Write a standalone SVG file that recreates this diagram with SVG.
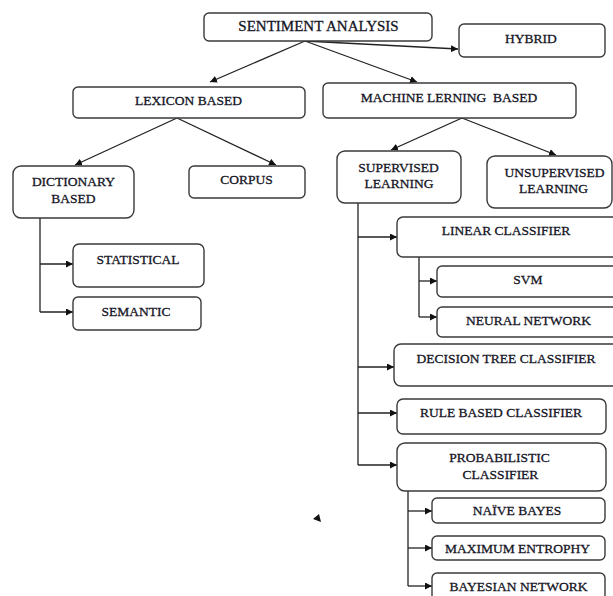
<svg xmlns="http://www.w3.org/2000/svg" width="613" height="596" viewBox="0 0 613 596">
<style>
.box{fill:#fff;stroke:#3a3a3a;stroke-width:1.4}
.t{font-family:"Liberation Serif","Times New Roman",serif;font-size:13.5px;fill:#151525;stroke:#151525;stroke-width:0.3;text-anchor:middle}
.c{fill:none;stroke:#222;stroke-width:1.3}
</style>
<defs>
<marker id="ah" viewBox="0 0 10 10" refX="10" refY="5" markerWidth="7" markerHeight="7" markerUnits="userSpaceOnUse" orient="auto">
<path d="M0,0 L10,5 L0,10 Z" fill="#111"/>
</marker>
</defs>
<rect width="613" height="596" fill="#fff"/>
<g id="connectors">
<path class="c" d="M305,41 L210,82" marker-end="url(#ah)"/>
<path class="c" d="M305,41 L417,82" marker-end="url(#ah)"/>
<path class="c" d="M305,41 L458,49" marker-end="url(#ah)"/>
<path class="c" d="M177,118 L75,165" marker-end="url(#ah)"/>
<path class="c" d="M177,118 L276,165" marker-end="url(#ah)"/>
<path class="c" d="M462,118 L391,150" marker-end="url(#ah)"/>
<path class="c" d="M462,118 L556,155" marker-end="url(#ah)"/>
<path class="c" d="M40,218 V312"/>
<path class="c" d="M40,264 H73" marker-end="url(#ah)"/>
<path class="c" d="M40,312 H73" marker-end="url(#ah)"/>
<path class="c" d="M358,203 V465"/>
<path class="c" d="M358,237 H397" marker-end="url(#ah)"/>
<path class="c" d="M358,367 H394" marker-end="url(#ah)"/>
<path class="c" d="M358,413 H397" marker-end="url(#ah)"/>
<path class="c" d="M358,465 H397" marker-end="url(#ah)"/>
<path class="c" d="M419,257 V317"/>
<path class="c" d="M419,281 H437" marker-end="url(#ah)"/>
<path class="c" d="M419,317 H437" marker-end="url(#ah)"/>
<path class="c" d="M408,480 V586"/>
<path class="c" d="M408,511 H432" marker-end="url(#ah)"/>
<path class="c" d="M408,548 H432" marker-end="url(#ah)"/>
<path class="c" d="M408,586 H432" marker-end="url(#ah)"/>
<polygon points="313,519 319,514 321,522" fill="#111"/>
</g>
<g id="sentiment"><rect class="box" x="204" y="13" width="228" height="28" rx="5"/><text class="t" x="318.5" y="31" style="font-size:15px">SENTIMENT ANALYSIS</text></g>
<g id="hybrid"><rect class="box" x="459" y="24" width="146" height="33" rx="5"/><text class="t" x="531" y="43">HYBRID</text></g>
<g id="lexicon"><rect class="box" x="73" y="87" width="232" height="31" rx="5"/><text class="t" x="188.5" y="105">LEXICON BASED</text></g>
<g id="machine"><rect class="box" x="323" y="83" width="253" height="35" rx="5"/><text class="t" x="449" y="102" xml:space="preserve">MACHINE LERNING  BASED</text></g>
<g id="dictionary"><rect class="box" x="13" y="166" width="121" height="52" rx="8"/><text class="t" x="73.5" y="186">DICTIONARY</text><text class="t" x="73.5" y="203">BASED</text></g>
<g id="corpus"><rect class="box" x="189" y="166" width="116" height="32" rx="5"/><text class="t" x="246.5" y="184">CORPUS</text></g>
<g id="statistical"><rect class="box" x="73" y="244" width="131" height="43" rx="6"/><text class="t" x="138" y="264">STATISTICAL</text></g>
<g id="semantic"><rect class="box" x="73" y="297" width="128" height="33" rx="5"/><text class="t" x="136" y="316">SEMANTIC</text></g>
<g id="supervised"><rect class="box" x="337" y="151" width="124" height="52" rx="8"/><text class="t" x="398.5" y="172">SUPERVISED</text><text class="t" x="399" y="188">LEARNING</text></g>
<g id="unsupervised"><rect class="box" x="487" y="156" width="125" height="52" rx="8"/><text class="t" x="554.5" y="177">UNSUPERVISED</text><text class="t" x="553.5" y="193">LEARNING</text></g>
<g id="linear"><rect class="box" x="397" y="217" width="225" height="40" rx="6"/><text class="t" x="506" y="235">LINEAR CLASSIFIER</text></g>
<g id="svm"><rect class="box" x="437" y="266" width="185" height="31" rx="5"/><text class="t" x="528" y="284">SVM</text></g>
<g id="neural"><rect class="box" x="437" y="307" width="185" height="30" rx="5"/><text class="t" x="528.5" y="325">NEURAL NETWORK</text></g>
<g id="decision"><rect class="box" x="394" y="344" width="228" height="42" rx="7"/><text class="t" x="506" y="363">DECISION TREE CLASSIFIER</text></g>
<g id="rule"><rect class="box" x="397" y="399" width="209" height="35" rx="6"/><text class="t" x="501" y="417">RULE BASED CLASSIFIER</text></g>
<g id="probabilistic"><rect class="box" x="397" y="443" width="209" height="48" rx="8"/><text class="t" x="499.5" y="462">PROBABILISTIC</text><text class="t" x="500.5" y="479">CLASSIFIER</text></g>
<g id="naive"><rect class="box" x="432" y="498" width="173" height="25" rx="5"/><text class="t" x="517" y="515">NAÏVE BAYES</text></g>
<g id="maxent"><rect class="box" x="432" y="536" width="173" height="24" rx="5"/><text class="t" x="517.5" y="553">MAXIMUM ENTROPHY</text></g>
<g id="bayesian"><rect class="box" x="432" y="573" width="173" height="30" rx="5"/><text class="t" x="518.5" y="591">BAYESIAN NETWORK</text></g>
</svg>
